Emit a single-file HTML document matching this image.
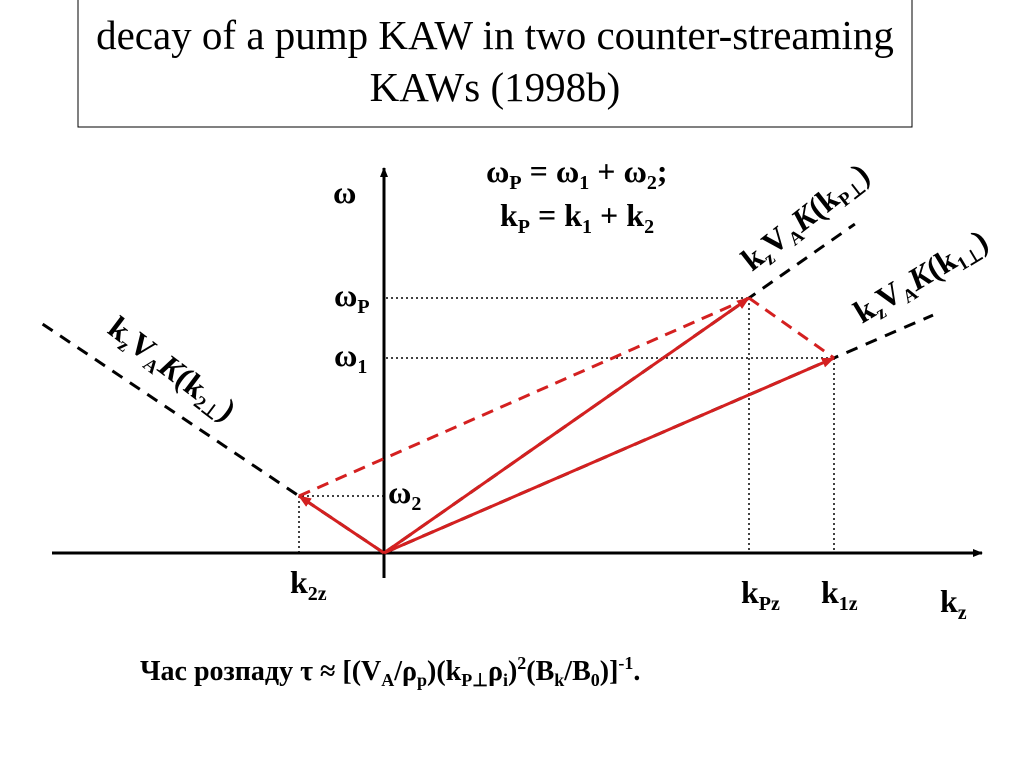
<!DOCTYPE html>
<html><head><meta charset="utf-8"><style>
body{margin:0;background:#fff;width:1024px;height:768px;overflow:hidden}
svg{font-family:"Liberation Serif",serif}
.b{font-weight:bold}
</style></head><body>
<svg width="1024" height="768">
<rect x="78" y="-2" width="834" height="129" fill="#fff" stroke="#000" stroke-width="1"/>
<text x="495" y="49" font-size="41" text-anchor="middle">decay of a pump KAW in two counter-streaming</text>
<text x="495" y="101" font-size="41" text-anchor="middle">KAWs (1998b)</text>
<defs>
<marker id="ar" markerWidth="10" markerHeight="10" refX="9" refY="5" orient="auto" markerUnits="userSpaceOnUse"><path d="M0,1 L10,5 L0,9 z" fill="#000"/></marker>
<marker id="rr" markerWidth="14" markerHeight="12" refX="12" refY="6" orient="auto" markerUnits="userSpaceOnUse"><path d="M0,1 L13,6 L0,11 z" fill="#d42020"/></marker>
</defs>
<g id="plot"></g>
<text x="333" y="203" font-size="32" class="b">ω</text>
<text x="940" y="612" font-size="32" class="b">k<tspan font-size="20" dy="7">z</tspan></text>
<text x="486" y="182" font-size="32" class="b">ω<tspan font-size="20" dy="7">P</tspan><tspan dy="-7"> = ω</tspan><tspan font-size="20" dy="7">1</tspan><tspan dy="-7"> + ω</tspan><tspan font-size="20" dy="7">2</tspan><tspan dy="-7">;</tspan></text>
<text x="500" y="226" font-size="32" class="b">k<tspan font-size="20" dy="7">P</tspan><tspan dy="-7"> = k</tspan><tspan font-size="20" dy="7">1</tspan><tspan dy="-7"> + k</tspan><tspan font-size="20" dy="7">2</tspan></text>
<text x="334" y="306" font-size="32" class="b">ω<tspan font-size="20" dy="7">P</tspan></text>
<text x="334" y="366" font-size="32" class="b">ω<tspan font-size="20" dy="7">1</tspan></text>
<text x="388" y="503" font-size="32" class="b">ω<tspan font-size="20" dy="7">2</tspan></text>
<text x="290" y="593" font-size="32" class="b">k<tspan font-size="20" dy="7">2z</tspan></text>
<text x="741" y="603" font-size="32" class="b">k<tspan font-size="20" dy="7">Pz</tspan></text>
<text x="821" y="603" font-size="32" class="b">k<tspan font-size="20" dy="7">1z</tspan></text>
<text transform="translate(752,272) rotate(-38)" font-size="32" class="b">k<tspan font-size="19" dy="6">z</tspan><tspan dy="-6">V</tspan><tspan font-size="19" dy="6">A</tspan><tspan dy="-6" font-style="italic">K</tspan><tspan>(k</tspan><tspan font-size="19" dy="6">P⊥</tspan><tspan dy="-6">)</tspan></text>
<text transform="translate(862,324) rotate(-31)" font-size="32" class="b">k<tspan font-size="19" dy="6">z</tspan><tspan dy="-6">V</tspan><tspan font-size="19" dy="6">A</tspan><tspan dy="-6" font-style="italic">K</tspan><tspan>(k</tspan><tspan font-size="19" dy="6">1⊥</tspan><tspan dy="-6">)</tspan></text>
<text transform="translate(106,332) rotate(37)" font-size="32" class="b">k<tspan font-size="19" dy="6">z</tspan><tspan dy="-6">V</tspan><tspan font-size="19" dy="6">A</tspan><tspan dy="-6" font-style="italic">K</tspan><tspan>(k</tspan><tspan font-size="19" dy="6">2⊥</tspan><tspan dy="-6">)</tspan></text>
<text x="140" y="680" font-size="28" class="b">Час розпаду τ ≈ [(V<tspan font-size="18" dy="6">A</tspan><tspan dy="-6">/ρ</tspan><tspan font-size="18" dy="6">p</tspan><tspan dy="-6">)(k</tspan><tspan font-size="18" dy="6">P⊥</tspan><tspan dy="-6">ρ</tspan><tspan font-size="18" dy="6">i</tspan><tspan dy="-6">)</tspan><tspan font-size="18" dy="-11">2</tspan><tspan dy="11">(B</tspan><tspan font-size="18" dy="6">k</tspan><tspan dy="-6">/B</tspan><tspan font-size="18" dy="6">0</tspan><tspan dy="-6">)]</tspan><tspan font-size="18" dy="-11">-1</tspan><tspan dy="11">.</tspan></text>
</svg>
<script>
// wave vectors (kz, omega) in diagram units
const waveNames=['P','1','2'];
const kz=[3.65,4.5,-0.85];
const omega=[2.55,1.95,0.57];
const X=v=>384+v*100, Y=v=>553-v*100;
const NS='http://www.w3.org/2000/svg';
const g=document.getElementById('plot');
function ln(x1,y1,x2,y2,st,w,da,mk,name){
 const l=document.createElementNS(NS,'line');
 l.setAttribute('x1',x1);l.setAttribute('y1',y1);l.setAttribute('x2',x2);l.setAttribute('y2',y2);
 l.setAttribute('stroke',st);l.setAttribute('stroke-width',w);
 if(da)l.setAttribute('stroke-dasharray',da);
 if(mk)l.setAttribute('marker-end','url(#'+mk+')');
 
 
 g.appendChild(l);return l;}
ln(52,553,982,553,'#000',3,null,'ar','x-axis');
ln(384,578,384,168,'#000',3,null,'ar','y-axis');
// dispersion branches (dashed black), extended
const ext=[1.29,1.22,4.02];
for(let i=0;i<3;i++){
 const s=ext[i];
 ln(X(0),Y(0),X(kz[i]*s),Y(omega[i]*s),'#000',3,'12,9',null,'dispersion-branch-'+waveNames[i]);
}
for(let i=0;i<3;i++){
 ln(X(0)+(kz[i]<0?0:2),Y(omega[i]),X(kz[i]),Y(omega[i]),'#000',1.5,'2,3',null,'guide-h-'+waveNames[i]);
 ln(X(kz[i]),Y(omega[i]),X(kz[i]),Y(0),'#000',1.5,'2,3',null,'guide-v-'+waveNames[i]);
}
ln(X(kz[2]),Y(omega[2]),X(kz[0]),Y(omega[0]),'#d42020',3,'12,8',null,'sum-side-2');
ln(X(kz[0]),Y(omega[0]),X(kz[1]),Y(omega[1]),'#d42020',3,'12,8',null,'sum-side-1');
for(let i=0;i<3;i++){
 ln(X(0),Y(0),X(kz[i]),Y(omega[i]),'#d42020',3,null,'rr','wave-vector-'+waveNames[i]);
}
</script>
</body></html>
